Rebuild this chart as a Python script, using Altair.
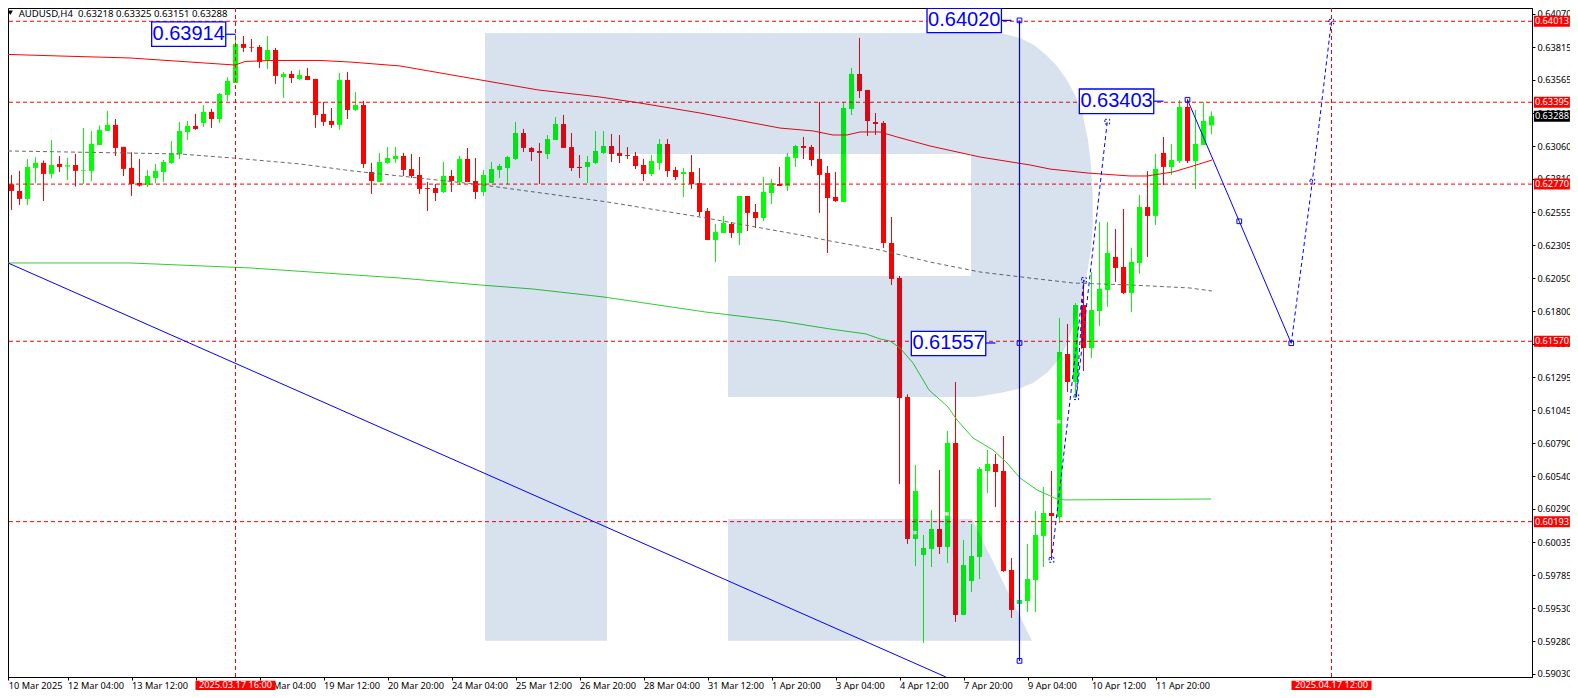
import altair as alt
import pandas as pd

# --- OHLC of AUDUSD H4, in points (1e-5) ---
highs = [62865,62840,62871,62962,62975,62950,63107,62985,62970,63000,
         63199,63176,63217,63329,63267,63054,63013,62962,62878,62924,
         62954,63100,63245,63252,63306,63374,63344,63466,63588,63914,
         63901,63878,63832,63901,63810,63626,63634,63642,63657,63573,
         63397,63351,63619,63626,63474,63405,62932,63008,63054,63054,
         63008,63000,62977,62786,62771,62939,62878,62985,63046,62969,
         62878,62939,62924,62985,63244,63191,63053,63084,63145,63282,
         63298,63160,62992,62985,63175,63175,63153,63145,63053,63015,
         62962,62992,63114,63114,62901,62893,62992,62893,62588,62466,
         62527,62481,62679,62679,62618,62824,62809,62901,63008,63069,
         63130,63069,63397,62908,62863,63397,63657,63886,63489,63313,
         63252,62519,62069,61165,60626,60091,60282,60588,60885,61259,
         60053,60175,60610,60740,60710,60847,59916,59595,60023,60275,
         60458,60580,61748,61702,61862,62008,62099,62481,62481,62427,
         62580,62282,62687,62870,63000,63130,63076,63412,63420,63336,
         63397,63325]
opens = [62858,62769,62718,62657,62894,62932,62848,62924,62904,62916,
         62873,62871,63069,63176,63222,63054,62894,62779,62764,62817,
         62863,62932,63000,63168,63214,63237,63321,63267,63451,63542,
         63840,63817,63817,63718,63794,63588,63611,63573,63596,63573,
         63306,63252,63222,63565,63336,63374,62863,62787,62932,62962,
         62985,62885,62840,62740,62740,62710,62832,62786,62962,62794,
         62710,62778,62878,62893,62962,63160,63046,63023,63000,63107,
         63229,63053,62901,62901,62931,63008,63061,63008,62992,62985,
         62916,62847,62931,63076,62878,62847,62862,62778,62565,62343,
         62397,62466,62397,62679,62557,62511,62702,62771,62756,62969,
         63061,63053,62962,62855,62672,62634,63344,63611,63489,63244,
         63237,62321,62053,61145,60061,59939,59985,60137,60000,60794,
         59481,59740,59923,60580,60633,60580,59824,59565,59587,59748,
         60084,60259,60229,61473,61259,61847,61519,61801,61962,62214,
         62137,61939,62168,62595,62527,63008,62901,62947,63359,62947,
         63069,63218]
closes = [62756,62718,62657,62901,62932,62848,62916,62901,62914,62871,
          62878,63077,63184,63222,63046,62886,62771,62759,62832,62871,
          62939,63005,63176,63214,63191,63321,63267,63458,63558,63840,
          63810,63812,63703,63794,63596,63611,63580,63603,63565,63298,
          63245,63222,63565,63336,63374,62924,62794,62939,62970,62985,
          62878,62832,62733,62733,62702,62832,62794,62962,62786,62710,
          62840,62885,62908,62977,63160,63046,63015,63008,63114,63229,
          63046,62893,62893,62939,63023,63061,63000,62985,62985,62908,
          62847,62946,63076,62870,62824,62862,62771,62557,62343,62404,
          62473,62397,62679,62550,62511,62710,62778,62756,62977,63061,
          63046,62954,62840,62664,62641,63351,63611,63481,63252,63229,
          62321,62046,61137,60061,60427,59992,60137,60000,60794,59481,
          59862,59931,60595,60633,60572,59816,59519,59595,59755,60091,
          60259,60236,61488,61259,61847,61519,61809,61970,62244,62130,
          61939,62176,62595,62527,62886,62901,62954,63359,62947,63076,
          63252,63288]
lows = [62629,62573,62611,62611,62776,62641,62815,62863,62802,62751,
        62771,62794,63069,63176,62985,62832,62680,62751,62748,62776,
        62787,62924,62962,63107,63184,63206,63199,63237,63405,63542,
        63779,63779,63657,63649,63535,63428,63542,63565,63565,63199,
        63214,63199,63184,63267,63329,62894,62695,62787,62924,62932,
        62832,62817,62695,62565,62641,62702,62710,62763,62786,62656,
        62679,62778,62817,62771,62954,63015,62946,62771,62962,63107,
        63046,62870,62817,62778,62924,63000,62939,62931,62962,62885,
        62794,62832,62878,62824,62801,62672,62733,62527,62343,62175,
        62397,62359,62305,62412,62435,62488,62618,62756,62717,62901,
        62962,62908,62550,62244,62634,62634,63298,63428,63137,63145,
        62282,62000,60481,60023,59855,59267,59847,59946,59878,59427,
        59481,59656,59755,60412,60305,59809,59458,59565,59503,59503,
        59847,59923,60185,61183,61137,61343,61443,61687,61832,62023,
        61931,61794,62084,62214,62458,62763,62840,62931,62931,62733,
        63069,63151]

# --- indicator lines: bar position, price in points ---
ma_red_x = [0.56,7.06,15.81,23.31,28.94,30.19,33.31,39.56,43.31,49.56,66.81,74.56,79.56,87.06,97.06,
            101.19,103.69,105.44,107.06,109.56,111.69,115.81,122.06,128.31,130.81,135.44,140.81,142.94,146.19,148.31,151.06]
ma_red_y = [63760,63748,63733,63702,63679,63706,63714,63714,63702,63672,63489,63435,63389,63313,63198,
            63176,63145,63145,63168,63168,63130,63061,62977,62916,62885,62855,62832,62832,62863,62901,62954]
ma_green_x = [0.56,15.81,30.81,49.56,59.56,66.19,75.06,87.69,97.06,103.31,107.81,109.56,110.81,112.06,113.69,
              115.69,118.06,119.19,121.19,123.69,125.44,127.06,129.19,131.69,132.69,150.94]
ma_green_y = [62168,62168,62130,62053,62000,61969,61908,61794,61725,61664,61626,61588,61572,61519,61404,
              61198,61069,60969,60832,60740,60641,60527,60435,60366,60359,60366]
ma_grey_x = [0.56,14.94,22.06,28.69,37.06,43.69,49.56,59.94,75.44,87.06,99.56,103.31,109.56,115.81,122.06,
             128.31,133.69,140.81,148.31,151.06]
ma_grey_y = [63023,63008,63000,62969,62924,62870,62832,62763,62634,62519,62382,62336,62267,62175,62099,
             62053,62015,62000,61977,61954]

# --- levels ---
level_prices = [64013,63395,62770,61570,60193]
level_labels = ["0.64013","0.63395","0.62770","0.61570","0.60193"]
vert_bars = [29,166]
vert_labels = ["2025.03.17 16:00","2025.04.17 12:00"]

# --- forecast ---
solid_x = [148.0,154.47,160.97]
solid_y = [63414,62486,61555]
dash2_x = [160.97,163.6,165.98]
dash2_y = [61555,62789,64010]
dash1_x = [131.0,135.06,134.1,137.97]
dash1_y = [59901,62038,61143,63247]
diag_x = [0.56,117.8]
diag_y = [62168,59007]
vline_bar = 127
vline_y = [64020,61557,59130]

# --- annotation boxes ---
box_text = ["0.63914","0.64020","0.63403","0.61557"]
box_x1 = [18.52,115.44,134.48,113.48]
box_x2 = [27.78,124.74,143.78,122.78]
box_top = [64008,64111,63496,61646]
box_bot = [63822,63926,63308,61460]
box_price = [63914,64020,63403,61557]
stub_end = [29,126,145,124]

# --- small order crosses ---
cross_x = [113.94,117.94,131.94]
cross_y = [60109,60252,60956]

# --- logo outline, bar position / price in points ---
logo_x = [60.19,123.31,125.19,127.06,128.81,130.19,131.69,132.94,134.06,134.94,135.56,135.94,136.15,136.15,135.94,135.56,135.19,
          134.56,133.94,133.06,132.06,130.56,128.69,126.81,124.56,121.44,
          90.56,90.56,120.94,120.94,75.44,75.44,60.19,60.19]
logo_y = [63924,63924,63916,63886,63832,63763,63672,63565,63435,63290,63107,62916,62687,62458,62267,62130,62000,
          61863,61733,61565,61443,61336,61252,61206,61175,61145,
          61145,62069,62069,63000,63000,59284,59284,63924]
leg_x = [90.56,121.06,128.56,90.56,90.56]
leg_y = [60214,60214,59284,59284,60214]

# --- axes ---
price_ticks = [64070,63815,63565,63310,63060,62810,62555,62305,62050,61800,61550,
               61295,61045,60790,60540,60290,60035,59785,59530,59280,59030]
date_tick_bars = [0.6,8,16,24,32,40,48,56,64,72,80,88,96,104,112,120,128,136,144]
date_labels = ["10 Mar 2025","12 Mar 04:00","13 Mar 12:00","14 Mar 20:00","18 Mar 04:00","19 Mar 12:00",
               "20 Mar 20:00","24 Mar 04:00","25 Mar 12:00","26 Mar 20:00","28 Mar 04:00","31 Mar 12:00",
               "1 Apr 20:00","3 Apr 04:00","4 Apr 12:00","7 Apr 20:00","9 Apr 04:00","10 Apr 12:00","11 Apr 20:00"]
title_text = "AUDUSD,H4\u00a0\u00a00.63218 0.63325 0.63151 0.63288"

P = 1e-5
FONT = "Noto Sans"
FS = 9.2
RED, GREEN, BLUE = "#ff0000", "#00ff00", "#0000ff"

xscale = alt.Scale(domain=[0.5625, 191.0625], nice=False, zero=False, padding=0)
yscale = alt.Scale(domain=[0.59007, 0.641145], nice=False, zero=False, padding=0)
expr = "[" + ",".join(f"'{d}'" for d in date_labels) + "][round(datum.value/8)]"
xaxis = alt.Axis(values=date_tick_bars, labelExpr=expr, title=None, grid=False, tickSize=3, tickColor="black",
                 domainColor="black", labelFont=FONT, labelFontSize=FS, labelColor="black", labelAlign="left",
                 labelPadding=1, labelOverlap=False, labelFlush=False, labelBound=False)
yaxis = alt.Axis(values=[v * P for v in price_ticks], format=".5f", orient="right", title=None, grid=False,
                 tickSize=3, tickColor="black", domainColor="black", labelFont=FONT, labelFontSize=FS,
                 labelColor="black", labelPadding=2, labelOverlap=False, labelFlush=False, labelBound=False)
X = alt.X("x:Q", scale=xscale, axis=xaxis)
Y = alt.Y("y:Q", scale=yscale, axis=yaxis)
X2 = alt.X2("x2:Q")
Y2 = alt.Y2("y2:Q")

candles = pd.DataFrame({
    "x": range(len(opens)),
    "h": [v * P for v in highs], "l": [v * P for v in lows],
    "o": [v * P for v in opens], "c": [v * P for v in closes],
})
candles["col"] = [GREEN if c >= o else RED for o, c in zip(opens, closes)]
wicks = candles.assign(y=candles.h, y2=candles.l)
bodies = candles.assign(y=candles.o, y2=candles.c)
COL = alt.Color("col:N", scale=None, legend=None)

def line_df(xs, ys, group=0):
    return pd.DataFrame({"x": xs, "y": [v * P for v in ys], "o": range(len(xs)), "g": group})

def line(xs, ys, color, width=1.0, dash=None):
    kw = dict(color=color, strokeWidth=width, clip=True)
    if dash:
        kw["strokeDash"] = dash
    return alt.Chart(line_df(xs, ys)).mark_line(**kw).encode(x=X, y=Y, order="o:Q")

def squares(xs, ys, dash=None):
    kw = dict(shape="square", size=22, filled=False, color=BLUE, strokeWidth=1, opacity=1)
    if dash:
        kw["strokeDash"] = dash
    return alt.Chart(line_df(xs, ys)).mark_point(**kw).encode(x=X, y=Y)

layers = []
layers.append(alt.Chart(wicks).mark_rule(strokeWidth=1).encode(x=X, y=Y, y2=Y2, color=COL))
layers.append(alt.Chart(bodies).mark_bar(size=5).encode(x=X, y=Y, y2=Y2, color=COL))
layers.append(alt.Chart(pd.DataFrame({"x": cross_x, "y": [v * P for v in cross_y]}))
              .mark_point(shape="cross", angle=45, size=18, filled=True, color="#e8ffe0", opacity=1).encode(x=X, y=Y))
layers.append(line(ma_red_x, ma_red_y, RED, 1.0))
layers.append(line(ma_green_x, ma_green_y, "#32cd32", 1.0))
layers.append(line(ma_grey_x, ma_grey_y, "#696969", 1.0, [4, 3]))
layers.append(alt.Chart(pd.DataFrame({"y": [v * P for v in level_prices]}))
              .mark_rule(color=RED, strokeWidth=1, strokeDash=[4, 3]).encode(y=Y))
layers.append(alt.Chart(pd.DataFrame({"x": vert_bars}))
              .mark_rule(color=RED, strokeWidth=1, strokeDash=[4, 3]).encode(x=X))

# watermark above the candles, as a translucent veil
logo = pd.concat([line_df(logo_x, logo_y, 1), line_df(leg_x, leg_y, 2)])
layers.append(alt.Chart(logo).mark_line(fill="#003b90", fillOpacity=0.153, strokeWidth=0, strokeOpacity=0)
              .encode(x=X, y=Y, detail="g:N", order="o:Q"))

# blue drawing objects
layers.append(line(diag_x, diag_y, BLUE, 1.0))
layers.append(alt.Chart(pd.DataFrame({"x": [vline_bar], "y": [vline_y[0] * P], "y2": [vline_y[2] * P]}))
              .mark_rule(color=BLUE, strokeWidth=1.2).encode(x=X, y=Y, y2=Y2))
layers.append(squares([vline_bar] * 3, vline_y))
layers.append(line(solid_x, solid_y, BLUE, 1.0))
layers.append(squares(solid_x, solid_y))
layers.append(line(dash2_x, dash2_y, BLUE, 1.0, [4, 3]))
layers.append(squares(dash2_x[1:], dash2_y[1:], [2, 2]))
layers.append(line(dash1_x, dash1_y, BLUE, 1.0, [4, 3]))
layers.append(squares(dash1_x, dash1_y, [2, 2]))

boxes = pd.DataFrame({"x": box_x1, "x2": box_x2, "y": [v * P for v in box_top], "y2": [v * P for v in box_bot],
                      "t": box_text})
stubs = pd.DataFrame({"x": box_x2, "x2": stub_end, "y": [v * P for v in box_price]})
centres = pd.DataFrame({"x": [(a + b) / 2 for a, b in zip(box_x1, box_x2)], "y": [v * P for v in box_price], "t": box_text})
layers.append(alt.Chart(stubs).mark_rule(color=BLUE, strokeWidth=1.2).encode(x=X, x2=X2, y=Y))
layers.append(alt.Chart(boxes).mark_rect(fill="white", stroke=BLUE, strokeWidth=1.3).encode(x=X, x2=X2, y=Y, y2=Y2))
layers.append(alt.Chart(centres).mark_text(font="Liberation Sans", fontSize=20, color=BLUE, align="center", baseline="middle")
              .encode(x=X, y=Y, text="t:N"))

# price tags at the right
tag_prices = level_prices + [63288]
tag_texts = level_labels + ["0.63288"]
tag_cols = [RED] * 5 + ["#000000"]
tags = pd.DataFrame({"x": [191.3] * 6, "x2": [195.8] * 6, "y": [(v + 42) * P for v in tag_prices],
                     "y2": [(v - 42) * P for v in tag_prices], "col": tag_cols})
tag_t = pd.DataFrame({"x": [193.55] * 6, "y": [v * P for v in tag_prices], "t": tag_texts})
layers.append(alt.Chart(tags).mark_rect().encode(x=X, x2=X2, y=Y, y2=Y2, color=COL))
layers.append(alt.Chart(tag_t).mark_text(font=FONT, fontSize=FS, color="white", align="center", baseline="middle")
              .encode(x=X, y=Y, text="t:N"))

# date tags at the bottom
dtags = pd.DataFrame({"x": [b - 5 for b in vert_bars], "x2": [b + 5 for b in vert_bars],
                      "y": [58979 * P] * 2, "y2": [58908 * P] * 2})
dtag_t = pd.DataFrame({"x": vert_bars, "y": [58943 * P] * 2, "t": vert_labels})
layers.append(alt.Chart(dtags).mark_rect(color=RED).encode(x=X, x2=X2, y=Y, y2=Y2))
layers.append(alt.Chart(dtag_t).mark_text(font=FONT, fontSize=FS, color="white", align="center", baseline="middle")
              .encode(x=X, y=Y, text="t:N"))

# header
layers.append(alt.Chart(pd.DataFrame({"x": [0.85], "y": [64078 * P]}))
              .mark_point(shape="triangle-down", size=28, filled=True, color="black", opacity=1).encode(x=X, y=Y))
layers.append(alt.Chart(pd.DataFrame({"x": [1.9], "y": [64070 * P], "t": [title_text]}))
              .mark_text(font=FONT, fontSize=9.6, color="black", align="left", baseline="middle")
              .encode(x=X, y=Y, text="t:N"))

chart = alt.layer(*layers).properties(
    width=1524, height=669,
    autosize=alt.AutoSizeParams(type="none"),
    padding={"left": 0, "top": 0, "right": 38, "bottom": 13},
    background="white",
).configure_view(stroke="black", strokeWidth=1, fill="white")

chart.save("out.html", embed_options={"renderer": "svg", "actions": False})
